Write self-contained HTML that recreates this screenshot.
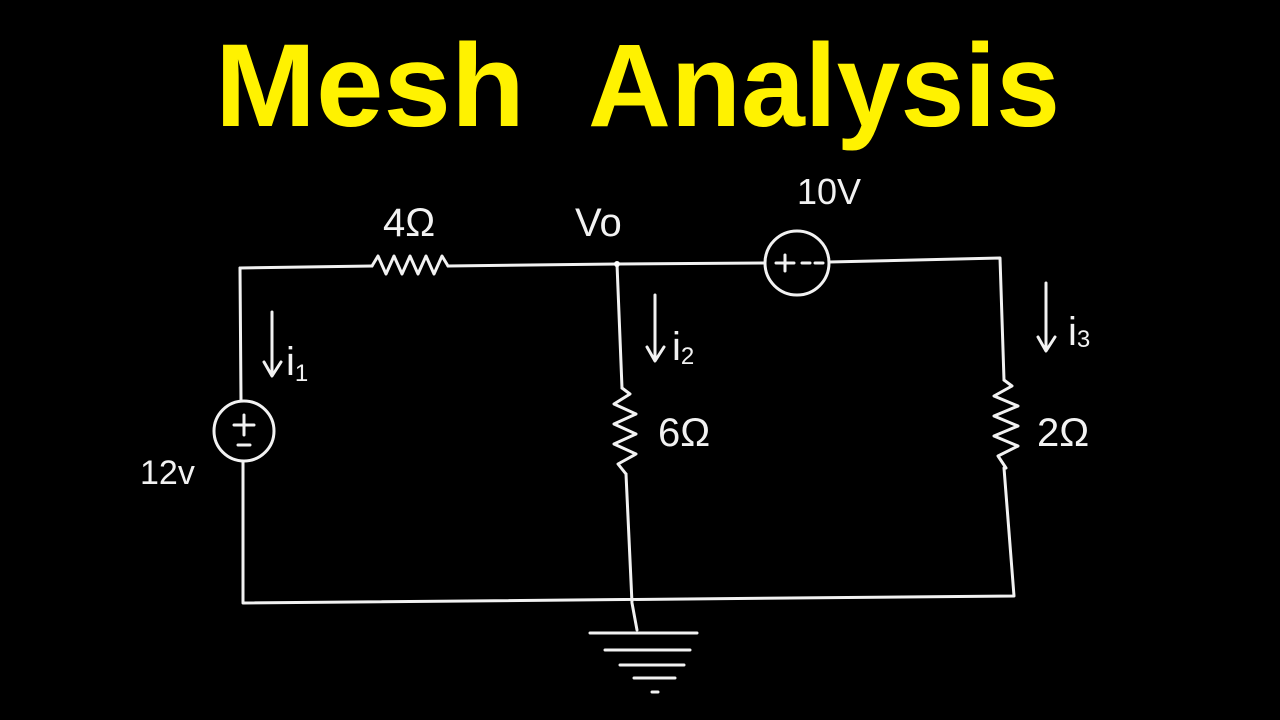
<!DOCTYPE html>
<html><head><meta charset="utf-8"><style>
html,body{margin:0;padding:0;background:#000;}
svg{display:block}
</style></head><body>
<svg width="1280" height="720" viewBox="0 0 1280 720" xmlns="http://www.w3.org/2000/svg">
<rect width="1280" height="720" fill="#000"/>
<g font-family="Liberation Sans, sans-serif" font-weight="bold" font-size="118" fill="#fff200">
<text x="215" y="126" textLength="310" lengthAdjust="spacingAndGlyphs">Mesh</text>
<text x="588" y="126" textLength="472" lengthAdjust="spacingAndGlyphs">Analysis</text>
</g>
<g stroke="#f2f2f2" stroke-width="3" fill="none" stroke-linecap="round" stroke-linejoin="round">
<polyline points="240,268 372,266"/>
<polyline points="372,266 378,256 386,274 394,256 402,274 410,256 418,274 426,256 434,274 442,256 448,266"/>
<polyline points="448,266 617,264 765,263"/>
<circle cx="797" cy="263" r="32"/>
<polyline points="829,262 1000,258 1004,380"/>
<path d="M776 263 h18 M785 255 v16 M802 263 h8 M815 263 h8"/>
<polyline points="240,268 241,400"/>
<ellipse cx="244" cy="431" rx="30" ry="30"/>
<path d="M234 425 h20 M244 415 v20 M238 445 h12"/>
<polyline points="243,461 243,603 1014,596 1004,468"/>
<polyline points="617,264 622,388"/>
<polyline points="622,388 630,394 614,404 636,414 614,424 636,434 614,444 636,454 618,464 626,474"/>
<polyline points="626,474 632,603 637,630"/>
<polyline points="1004,380 1012,386 994,396 1018,406 994,416 1018,426 994,436 1018,446 998,456 1006,468"/>
<path d="M590 633 H697 M605 650 H690 M620 665 H684 M634 678 H675 M652 692 H658"/>
<path d="M272 312 V375 M264 362 L272 376 L281 362"/>
<path d="M655 295 V360 M647 347 L655 361 L664 347"/>
<path d="M1046 283 V350 M1038 337 L1046 351 L1055 337"/>
</g>
<circle cx="617" cy="264" r="3" fill="#fff"/>
<g font-family="Liberation Sans, DejaVu Sans, sans-serif" fill="#f2f2f2" font-size="40" font-weight="normal">
<text x="383" y="236">4Ω</text>
<text x="575" y="236">Vo</text>
<text x="797" y="204" font-size="36">10V</text>
<text x="286" y="375">i<tspan font-size="24" dy="6">1</tspan></text>
<text x="140" y="484" font-size="34">12v</text>
<text x="672" y="360">i<tspan font-size="24" dy="4">2</tspan></text>
<text x="658" y="446">6Ω</text>
<text x="1037" y="446">2Ω</text>
<text x="1068" y="345">i<tspan font-size="24" dy="2">3</tspan></text>
</g>
</svg>
</body></html>
